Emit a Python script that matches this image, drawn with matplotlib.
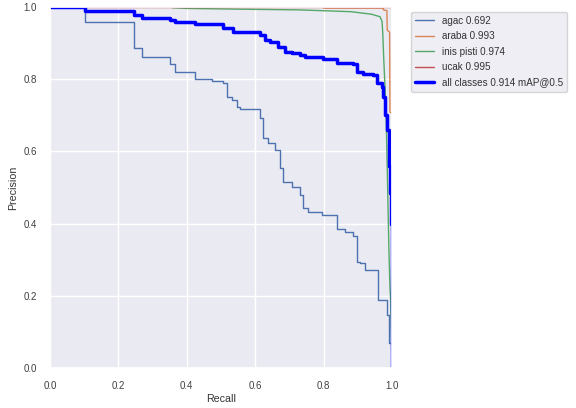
import numpy as np
import matplotlib
matplotlib.use("Agg")
import matplotlib.pyplot as plt
import seaborn as sns

sns.set_theme(style="darkgrid")
plt.rcParams['font.family'] = ['Liberation Sans', 'DejaVu Sans']

# per-class PR curves (recall, precision)
agac_r = [0.0, 0.102, 0.246, 0.269, 0.351, 0.366, 0.424, 0.474, 0.506, 0.518, 0.532, 0.547, 0.555,
          0.614, 0.623, 0.637, 0.658, 0.672, 0.681, 0.708, 0.731, 0.740, 0.754, 0.795, 0.839, 0.862,
          0.886, 0.898, 0.906, 0.921, 0.959, 0.985, 0.991, 1.0]
agac_p = [1.0, 0.958, 0.886, 0.861, 0.842, 0.820, 0.800, 0.795, 0.789, 0.750, 0.742, 0.722, 0.717,
          0.692, 0.637, 0.623, 0.604, 0.554, 0.515, 0.501, 0.479, 0.443, 0.432, 0.424, 0.385, 0.377,
          0.365, 0.294, 0.291, 0.271, 0.188, 0.147, 0.069, 0.0]

araba_r = [0.0, 0.798, 0.800, 0.974, 0.975, 0.985, 0.986, 0.993, 0.994, 1.0]
araba_p = [1.0, 1.0, 0.997, 0.997, 0.992, 0.990, 0.936, 0.930, 0.709, 0.705]

inis_r = [0.0, 0.356, 0.357, 0.40, 0.55, 0.73, 0.88, 0.94, 0.965, 0.971, 0.973, 0.976, 0.980,
          0.983, 0.986, 0.991, 0.994, 0.996, 1.0]
inis_p = [1.0, 1.0, 0.998, 0.996, 0.994, 0.992, 0.987, 0.980, 0.973, 0.960, 0.927, 0.853, 0.770,
          0.687, 0.557, 0.327, 0.224, 0.190, 0.0]

ucak_r = [0.0, 1.0]
ucak_p = [1.0, 1.0]

all_r = [0.0, 0.102, 0.246, 0.269, 0.351, 0.366, 0.424, 0.506, 0.535, 0.614, 0.629, 0.643, 0.667,
         0.687, 0.708, 0.731, 0.746, 0.798, 0.839, 0.886, 0.898, 0.915, 0.944, 0.956, 0.971, 0.975,
         0.980, 0.985, 0.990, 0.994, 0.997, 0.999, 1.0]
all_p = [1.0, 0.990, 0.978, 0.970, 0.964, 0.958, 0.952, 0.942, 0.931, 0.922, 0.909, 0.903, 0.889,
         0.875, 0.873, 0.867, 0.861, 0.856, 0.845, 0.842, 0.820, 0.814, 0.812, 0.789, 0.778, 0.750,
         0.700, 0.660, 0.560, 0.485, 0.400, 0.330, 0.0]

names = ["agac 0.692", "araba 0.993", "inis pisti 0.974", "ucak 0.995"]
colors = ["#4C72B0", "#DD8452", "#55A868", "#C44E52"]

fig = plt.figure(figsize=(5.76, 4.08), dpi=100)
ax = fig.add_axes([50 / 576, 1 - 368 / 408, 342 / 576, 361 / 408])

ax.plot(agac_r, agac_p, drawstyle="steps-post", lw=1, color=colors[0], label=names[0])
ax.plot(araba_r, araba_p, lw=1, color=colors[1], label=names[1])
ax.plot(inis_r, inis_p, lw=1, color=colors[2], label=names[2])
ax.plot(ucak_r, ucak_p, lw=1, color=colors[3], label=names[3])
ax.plot(all_r, all_p, drawstyle="steps-post", lw=2.5, color="blue", label="all classes 0.914 mAP@0.5")

ax.set_xlim(0, 1)
ax.set_ylim(0, 1)
ax.set_xticks(np.arange(0, 1.01, 0.2))
ax.set_yticks(np.arange(0, 1.01, 0.2))
ax.tick_params(labelsize=7, labelcolor="0.25")
ax.set_xlabel("Recall", fontsize=7.7, labelpad=2, color="0.2")
ax.set_ylabel("Precision", fontsize=7.7, labelpad=4, color="0.2")
leg = ax.legend(bbox_to_anchor=(1.04, 1), loc="upper left", fontsize=7.1, labelspacing=0.55)
for t in leg.get_texts():
    t.set_color("0.2")

fig.savefig("out.png", dpi=100)
